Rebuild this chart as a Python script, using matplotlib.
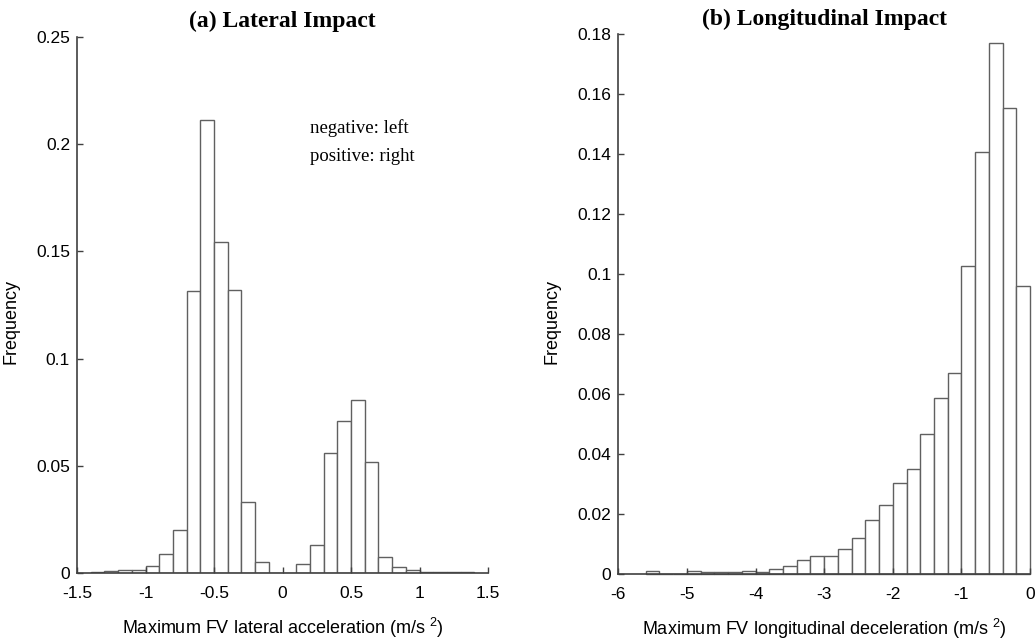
import matplotlib
matplotlib.use("Agg")
import matplotlib.pyplot as plt
from matplotlib.ticker import FormatStrFormatter

plt.rcParams['font.family'] = ['Liberation Sans', 'DejaVu Sans']
plt.rcParams['mathtext.fontset'] = 'custom'
plt.rcParams['mathtext.rm'] = 'Liberation Sans'
plt.rcParams['mathtext.it'] = 'Liberation Sans'

# ---- data: (a) lateral impact ----
lat_bin_left = [-1.4, -1.3, -1.2, -1.1, -1.0, -0.9, -0.8, -0.7, -0.6, -0.5,
                -0.4, -0.3, -0.2, -0.1, 0.0, 0.1, 0.2, 0.3, 0.4, 0.5,
                0.6, 0.7, 0.8, 0.9, 1.0, 1.1, 1.2, 1.3]
lat_freq = [0.0006, 0.0009, 0.0015, 0.0014, 0.0033, 0.0088, 0.0201, 0.1318, 0.2112, 0.1543,
            0.1321, 0.0333, 0.0054, 0.0, 0.0, 0.0042, 0.0130, 0.0562, 0.0712, 0.0809,
            0.0520, 0.0076, 0.0028, 0.0015, 0.0005, 0.0004, 0.0004, 0.0004]
lat_bin_width = 0.1
lat_xticks = [-1.5, -1, -0.5, 0, 0.5, 1, 1.5]
lat_yticks = [0, 0.05, 0.1, 0.15, 0.2, 0.25]

# ---- data: (b) longitudinal impact ----
lon_bin_left = [-5.6, -5.4, -5.2, -5.0, -4.8, -4.6, -4.4, -4.2, -4.0, -3.8,
                -3.6, -3.4, -3.2, -3.0, -2.8, -2.6, -2.4, -2.2, -2.0, -1.8,
                -1.6, -1.4, -1.2, -1.0, -0.8, -0.6, -0.4, -0.2]
lon_freq = [0.0010, 0.0, 0.0002, 0.0010, 0.0007, 0.0009, 0.0007, 0.0011, 0.0009, 0.0019,
            0.0029, 0.0049, 0.0062, 0.0060, 0.0086, 0.0122, 0.0182, 0.0230, 0.0303, 0.0350,
            0.0468, 0.0589, 0.0671, 0.1029, 0.1409, 0.1770, 0.1555, 0.0962]
lon_bin_width = 0.2
lon_xticks = [-6, -5, -4, -3, -2, -1, 0]
lon_yticks = [0, 0.02, 0.04, 0.06, 0.08, 0.1, 0.12, 0.14, 0.16, 0.18]

fig = plt.figure(figsize=(10.35, 6.44), dpi=100)
ax1 = fig.add_axes([0.0744, 0.1098, 0.3971, 0.8328])
ax2 = fig.add_axes([0.5974, 0.1082, 0.3978, 0.8385])

edge = '#606060'
spine_c = '#404040'

def style(ax):
    for s in ['top', 'right']:
        ax.spines[s].set_visible(False)
    for s in ['left', 'bottom']:
        ax.spines[s].set_color(spine_c)
        ax.spines[s].set_linewidth(1.2)
    ax.tick_params(direction='in', length=4, width=1, color=spine_c,
                   labelsize=12.5)
    ax.tick_params(axis='x', pad=9)
    ax.tick_params(axis='y', pad=5)
    ax.yaxis.set_major_formatter(FormatStrFormatter('%g'))
    ax.xaxis.set_major_formatter(FormatStrFormatter('%g'))

ax1.bar(lat_bin_left, lat_freq, width=lat_bin_width, align='edge',
        facecolor='white', edgecolor=edge, linewidth=1.0)
ax1.set_xlim(-1.5, 1.5)
ax1.set_ylim(0, 0.25)
ax1.set_xticks(lat_xticks)
ax1.set_yticks(lat_yticks)
style(ax1)
ax1.set_ylabel('Frequency', fontsize=13)
ax1.yaxis.set_label_coords(-0.139, 0.47)
ax1.set_xlabel('Maximum FV lateral acceleration (m/s $^{2}$)', fontsize=13, labelpad=11)
ax1.set_title('(a) Lateral Impact', fontsize=17, fontweight='bold',
              family='Liberation Serif', pad=7)
ax1.text(0.2, 0.2077, 'negative: left', fontsize=13.5, family='Liberation Serif',
         va='center', ha='left')
ax1.text(0.2, 0.1941, 'positive: right', fontsize=13.5, family='Liberation Serif',
         va='center', ha='left')

ax2.bar(lon_bin_left, lon_freq, width=lon_bin_width, align='edge',
        facecolor='white', edgecolor=edge, linewidth=1.0, clip_on=False)
ax2.set_xlim(-6, 0)
ax2.set_ylim(0, 0.18)
ax2.set_xticks(lon_xticks)
ax2.set_yticks(lon_yticks)
style(ax2)
ax2.set_ylabel('Frequency', fontsize=13)
ax2.yaxis.set_label_coords(-0.1416, 0.469)
ax2.set_xlabel('Maximum FV longitudinal deceleration (m/s $^{2}$)', fontsize=13, labelpad=11)
ax2.set_title('(b) Longitudinal Impact', fontsize=17, fontweight='bold',
              family='Liberation Serif', pad=7)

fig.savefig('out.png', dpi=100, facecolor='white')
